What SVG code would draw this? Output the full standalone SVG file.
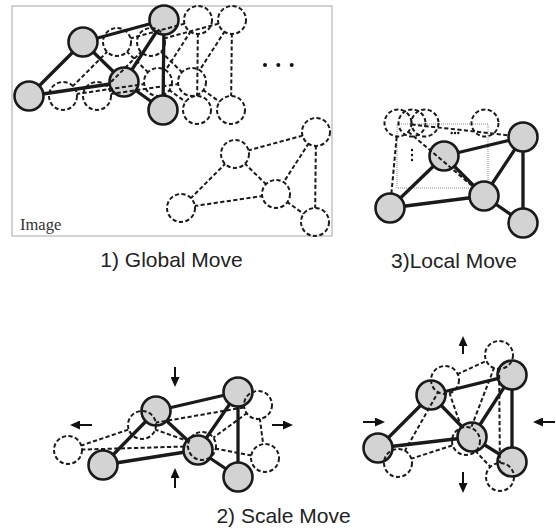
<svg xmlns="http://www.w3.org/2000/svg" xmlns:xlink="http://www.w3.org/1999/xlink" width="556" height="529" viewBox="0 0 556 529">
<defs>
<style>
.e{stroke:#1a1a1a;stroke-width:3.3;stroke-linecap:round;fill:none}
.n{fill:#d3d3d3;stroke:#1a1a1a;stroke-width:2.6}
.d{fill:none;stroke:#1a1a1a;stroke-width:2;stroke-dasharray:4.2 2.4}
.ar{stroke:#111;stroke-width:2;fill:none;marker-end:url(#ah)}
.lbl{font-family:"Liberation Sans",Arial,sans-serif;font-size:21px;fill:#222;text-anchor:middle}
.dot{fill:#111}
</style>
<marker id="ah" markerUnits="userSpaceOnUse" viewBox="0 0 10 9" markerWidth="10" markerHeight="9" refX="1" refY="4.5" orient="auto">
<path d="M0,0 L10,4.5 L0,9 Z" fill="#111"/>
</marker>
<mask id="m1" maskUnits="userSpaceOnUse" x="-100" y="-100" width="800" height="800">
<rect x="-100" y="-100" width="800" height="800" fill="#fff"/>
<g fill="#000"><circle cx="29" cy="96" r="14"/><circle cx="83" cy="42" r="14"/><circle cx="164" cy="20" r="14"/><circle cx="124" cy="82" r="14"/><circle cx="163" cy="110" r="14"/></g>
</mask>
<mask id="m2" maskUnits="userSpaceOnUse" x="0" y="300" width="556" height="229">
<rect x="0" y="300" width="556" height="229" fill="#fff"/>
<g fill="#000"><circle cx="68" cy="450" r="14"/><circle cx="142" cy="425" r="14"/><circle cx="258" cy="405" r="14"/><circle cx="202" cy="446" r="14"/><circle cx="265" cy="458" r="14"/></g>
</mask>
<mask id="m3" maskUnits="userSpaceOnUse" x="0" y="300" width="556" height="229">
<rect x="0" y="300" width="556" height="229" fill="#fff"/>
<g fill="#000"><circle cx="398" cy="463" r="14"/><circle cx="445" cy="380" r="14"/><circle cx="499" cy="355" r="14"/><circle cx="466" cy="441" r="14"/><circle cx="500" cy="477" r="14"/></g>
</mask>
<g id="ghost1">
<path class="d" mask="url(#m1)" d="M29,96L83,42M29,96L124,82M83,42L124,82M83,42L164,20M164,20L124,82M164,20L163,110M124,82L163,110"/>
<g class="d"><circle cx="29" cy="96" r="14"/><circle cx="83" cy="42" r="14"/><circle cx="164" cy="20" r="14"/><circle cx="124" cy="82" r="14"/><circle cx="163" cy="110" r="14"/></g>
</g>
</defs>

<rect width="556" height="529" fill="#fff"/>

<!-- Panel 1: Global move -->
<rect id="image-frame" x="12" y="6" width="320" height="230" fill="none" stroke="#c4c4c4" stroke-width="1.5"/>
<text x="20" y="229.5" font-family="'Liberation Serif','Times New Roman',serif" font-size="16.5" fill="#333">Image</text>
<g id="p1-connectors">
<path class="e" d="M29,96L83,42M29,96L124,82M83,42L124,82M83,42L164,20M164,20L124,82M164,20L163,110M124,82L163,110"/>
</g>
<g id="p1-A"><circle class="n" cx="29" cy="96" r="14.5"/></g>
<g id="p1-B"><circle class="n" cx="83" cy="42" r="14.5"/></g>
<g id="p1-C"><circle class="n" cx="164" cy="20" r="14.5"/></g>
<g id="p1-D"><circle class="n" cx="124" cy="82" r="14.5"/></g>
<g id="p1-E"><circle class="n" cx="163" cy="110" r="14.5"/></g>
<g id="p1-ghost-1"><use xlink:href="#ghost1" href="#ghost1" transform="translate(34,0)"/></g>
<g id="p1-ghost-2"><use xlink:href="#ghost1" href="#ghost1" transform="translate(68,0)"/></g>
<g id="p1-ghost-3"><use xlink:href="#ghost1" href="#ghost1" transform="translate(152,112)"/></g>
<g id="p1-ellipsis"><circle class="dot" cx="265" cy="65" r="2"/><circle class="dot" cx="278.3" cy="65" r="2"/><circle class="dot" cx="291.7" cy="65" r="2"/></g>
<text class="lbl" x="171.5" y="267">1) Global Move</text>

<!-- Panel 3: Local move -->
<rect id="p3-window" x="397" y="124" width="91" height="64" fill="none" stroke="#8a8a8a" stroke-width="1" stroke-dasharray="1 1"/>
<g id="p3-connectors">
<path class="e" d="M390,208L444,156M390,208L484,196M444,156L484,196M444,156L523,137M523,137L484,196M523,137L523,223M484,196L523,223"/>
</g>
<g id="p3-A"><circle class="n" cx="390" cy="208" r="14.5"/></g>
<g id="p3-B"><circle class="n" cx="444" cy="156" r="14.5"/></g>
<g id="p3-C"><circle class="n" cx="523" cy="137" r="14.5"/></g>
<g id="p3-D"><circle class="n" cx="484" cy="196" r="14.5"/></g>
<g id="p3-E"><circle class="n" cx="523" cy="223" r="14.5"/></g>
<g id="p3-ghost-connectors">
<path class="d" d="M391.4,193.6L396.7,136.4M411.4,124.5L508.6,135.3M408.3,131.7L473,186.6"/>
</g>
<g id="p3-cand-1"><circle class="d" cx="398" cy="123" r="13.5"/></g>
<g id="p3-cand-2"><circle class="d" cx="412" cy="123" r="13.5"/></g>
<g id="p3-cand-3"><circle class="d" cx="425" cy="123" r="13.5"/></g>
<g id="p3-cand-4"><circle class="d" cx="485" cy="123" r="13.5"/></g>
<g id="p3-dots"><circle class="dot" cx="451.7" cy="133" r="1.2"/><circle class="dot" cx="455" cy="133" r="1.2"/><circle class="dot" cx="458.3" cy="133" r="1.2"/><circle class="dot" cx="412" cy="150" r="1.2"/><circle class="dot" cx="412" cy="155" r="1.2"/><circle class="dot" cx="412" cy="160" r="1.2"/></g>
<text class="lbl" x="454" y="268">3)Local Move</text>

<!-- Panel 2 left: Scale move (stretch horizontally) -->
<g id="p2a-connectors">
<path class="e" d="M103,465L156,411M103,465L198,450M156,411L198,450M156,411L238,392M238,392L198,450M238,392L238,477M198,450L238,477"/>
</g>
<g id="p2a-A"><circle class="n" cx="103" cy="465" r="14.5"/></g>
<g id="p2a-B"><circle class="n" cx="156" cy="411" r="14.5"/></g>
<g id="p2a-C"><circle class="n" cx="238" cy="392" r="14.5"/></g>
<g id="p2a-D"><circle class="n" cx="198" cy="450" r="14.5"/></g>
<g id="p2a-E"><circle class="n" cx="238" cy="477" r="14.5"/></g>
<g id="p2a-ghost">
<path class="d" mask="url(#m2)" d="M68,450L142,425M68,450L202,446M142,425L202,446M142,425L258,405M258,405L202,446M258,405L265,458M202,446L265,458"/>
<circle class="d" cx="68" cy="450" r="14"/><circle class="d" cx="142" cy="425" r="14"/><circle class="d" cx="258" cy="405" r="14"/><circle class="d" cx="202" cy="446" r="14"/><circle class="d" cx="265" cy="458" r="14"/>
</g>
<g id="p2a-arrows">
<path class="ar" d="M175,367V378"/>
<path class="ar" d="M175,488V477"/>
<path class="ar" d="M92,425H79"/>
<path class="ar" d="M272,425H284"/>
</g>

<!-- Panel 2 right: Scale move (stretch vertically) -->
<g id="p2b-connectors">
<path class="e" d="M378,448L431,395M378,448L472,437M431,395L472,437M431,395L512,375M512,375L472,437M512,375L512,462M472,437L512,462"/>
</g>
<g id="p2b-A"><circle class="n" cx="378" cy="448" r="14.5"/></g>
<g id="p2b-B"><circle class="n" cx="431" cy="395" r="14.5"/></g>
<g id="p2b-C"><circle class="n" cx="512" cy="375" r="14.5"/></g>
<g id="p2b-D"><circle class="n" cx="472" cy="437" r="14.5"/></g>
<g id="p2b-E"><circle class="n" cx="512" cy="462" r="14.5"/></g>
<g id="p2b-ghost">
<path class="d" mask="url(#m3)" d="M398,463L445,380M398,463L466,441M445,380L466,441M445,380L499,355M499,355L466,441M499,355L500,477M466,441L500,477"/>
<circle class="d" cx="398" cy="463" r="14"/><circle class="d" cx="445" cy="380" r="14"/><circle class="d" cx="499" cy="355" r="14"/><circle class="d" cx="466" cy="441" r="14"/><circle class="d" cx="500" cy="477" r="14"/>
</g>
<g id="p2b-arrows">
<path class="ar" d="M463,354V345"/>
<path class="ar" d="M463,472V484"/>
<path class="ar" d="M363,422H376"/>
<path class="ar" d="M555,422H542"/>
</g>

<text class="lbl" x="283.5" y="523">2) Scale Move</text>
</svg>
